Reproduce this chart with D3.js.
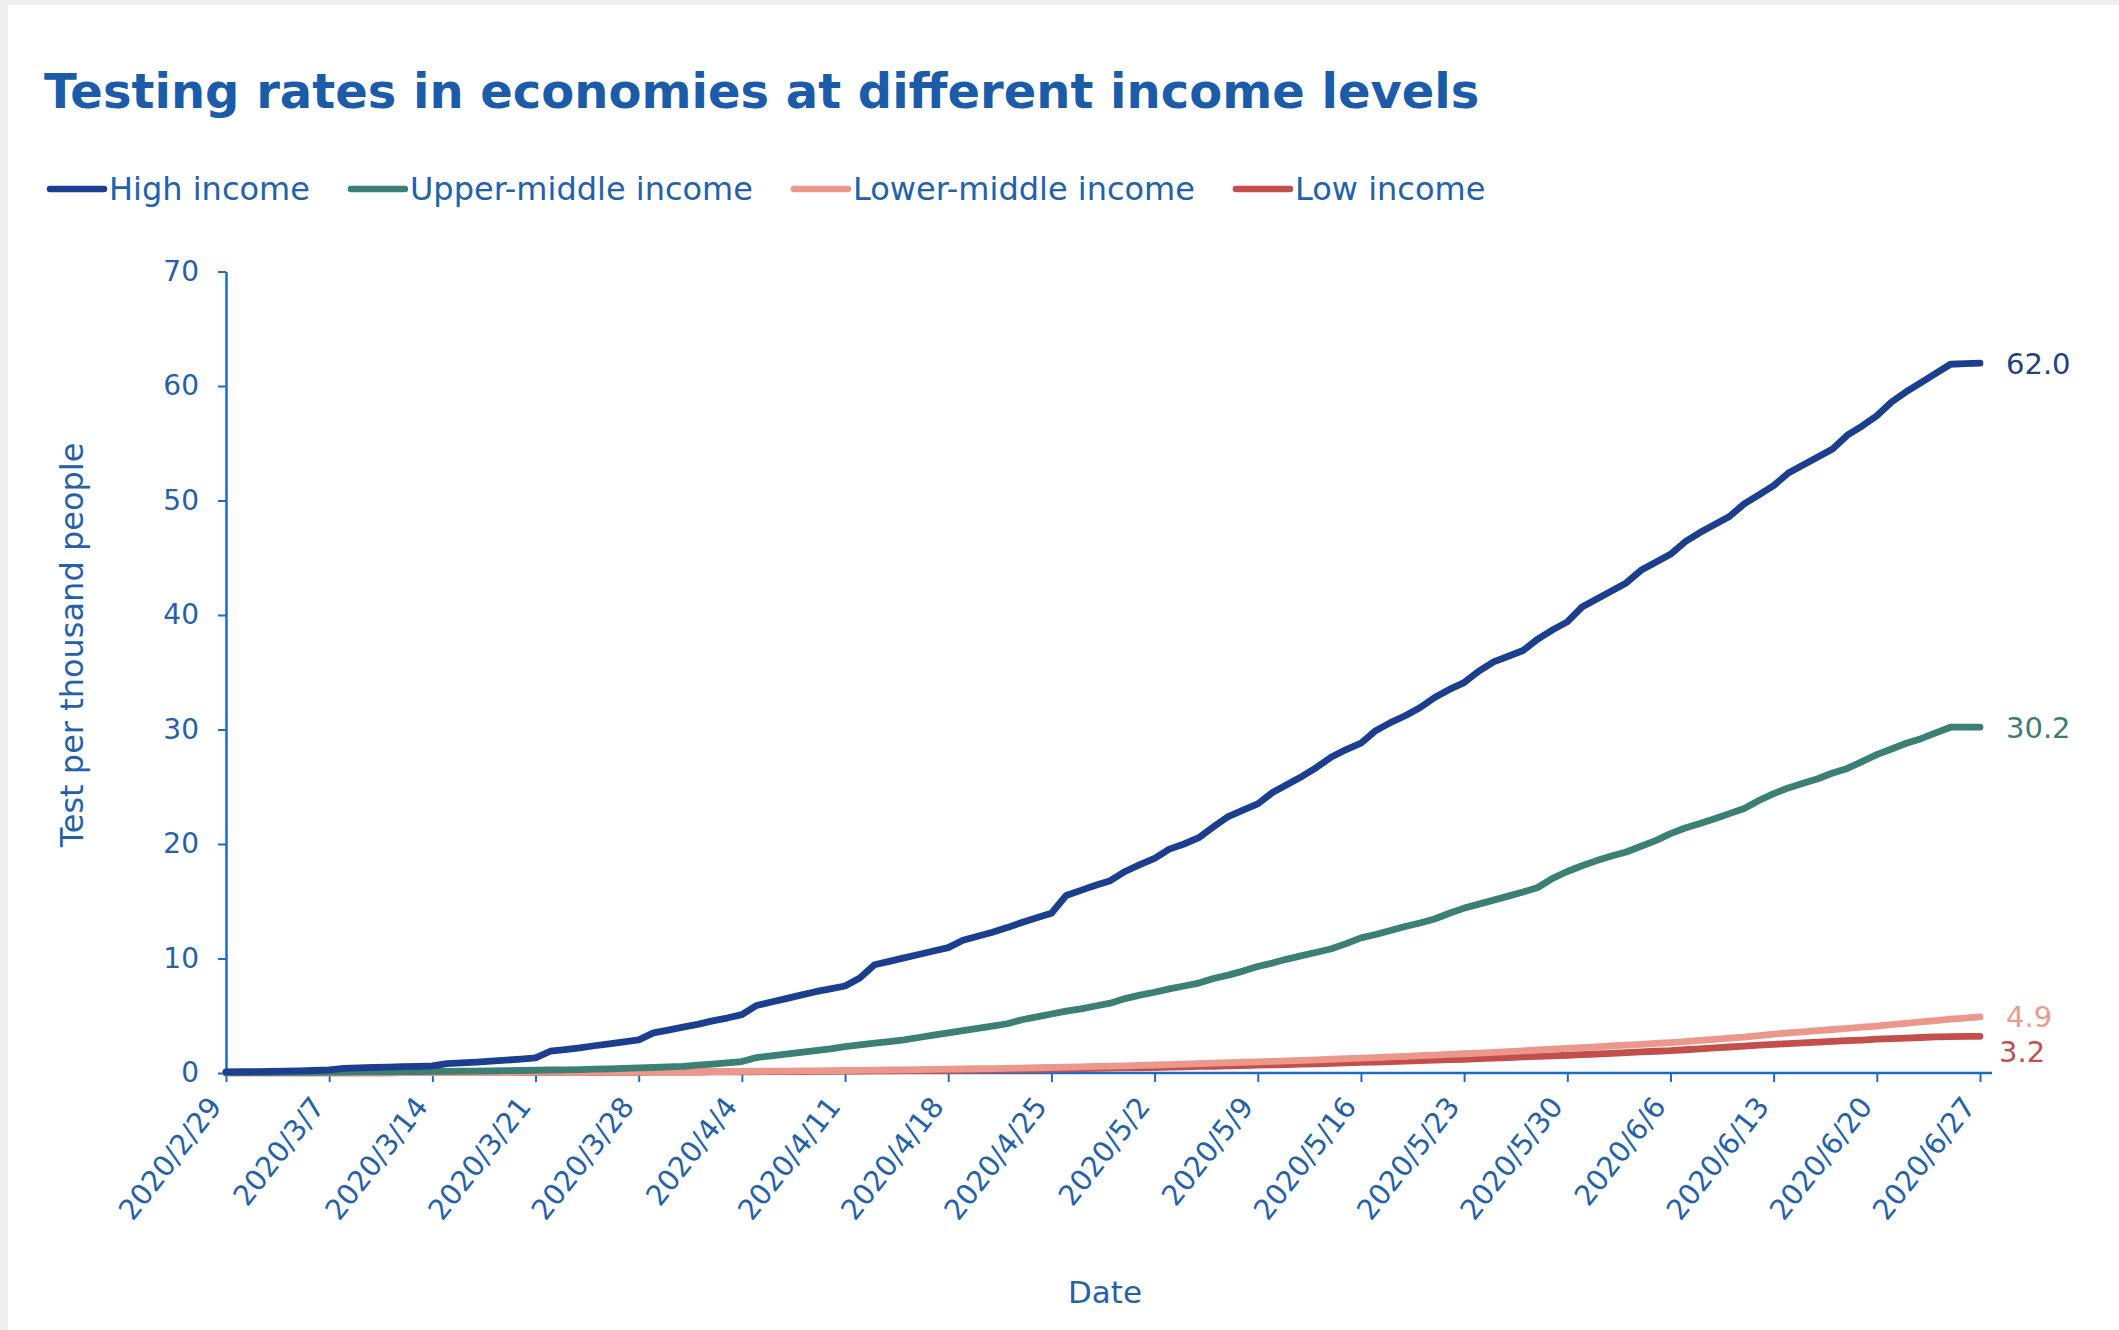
<!DOCTYPE html>
<html>
<head>
<meta charset="utf-8">
<script src="https://cdn.jsdelivr.net/npm/d3@7/dist/d3.min.js"></script>
<style>
  html, body { margin: 0; padding: 0; background: #efefef; }
  svg { display: block; }
  text { font-family: "DejaVu Sans", Verdana, sans-serif; }
</style>
</head>
<body>
<svg id="chart" width="2119" height="1330"></svg>
<script>
// Cumulative tests per thousand people, one value per day from 2020/2/29 to 2020/6/27
const startDate = "2020-02-29";
const tickLabels = ["2020/2/29","2020/3/7","2020/3/14","2020/3/21","2020/3/28","2020/4/4",
  "2020/4/11","2020/4/18","2020/4/25","2020/5/2","2020/5/9","2020/5/16","2020/5/23",
  "2020/5/30","2020/6/6","2020/6/13","2020/6/20","2020/6/27"];
const yTicks = [0, 10, 20, 30, 40, 50, 60, 70];
const seriesNames = ["High income", "Upper-middle income", "Lower-middle income", "Low income"];

const highIncome = [
  0.10,0.11,0.12,0.14,0.16,0.18,0.22,0.28,
  0.40,0.45,0.48,0.52,0.55,0.58,0.62,
  0.82,0.88,0.95,1.03,1.12,1.22,1.32,
  1.90,2.05,2.20,2.38,2.55,2.72,2.90,
  3.50,3.75,4.00,4.25,4.55,4.80,5.10,
  5.90,6.20,6.50,6.80,7.10,7.35,7.60,
  8.30,9.45,9.75,10.05,10.35,10.65,10.95,
  11.60,11.95,12.30,12.70,13.15,13.55,13.95,
  15.50,15.95,16.40,16.80,17.60,18.20,18.75,
  19.55,20.00,20.55,21.50,22.40,22.95,23.50,
  24.50,25.20,25.90,26.70,27.60,28.25,28.80,
  29.90,30.60,31.20,31.90,32.80,33.50,34.10,
  35.10,35.90,36.40,36.90,37.90,38.70,39.40,
  40.70,41.40,42.10,42.80,43.90,44.60,45.30,
  46.40,47.20,47.90,48.60,49.70,50.50,51.30,
  52.40,53.10,53.80,54.50,55.70,56.50,57.40,
  58.60,59.50,60.30,61.10,61.90,61.95,62.00
];
const upperMiddleIncome = [
  0.03,0.03,0.04,0.04,0.05,0.05,0.06,0.07,
  0.08,0.09,0.10,0.11,0.12,0.13,0.14,
  0.15,0.16,0.17,0.18,0.20,0.22,0.24,
  0.26,0.28,0.30,0.33,0.36,0.40,0.44,
  0.48,0.53,0.58,0.68,0.78,0.88,1.00,
  1.35,1.50,1.65,1.80,1.95,2.10,2.30,
  2.45,2.60,2.75,2.90,3.10,3.30,3.50,
  3.70,3.90,4.10,4.30,4.65,4.90,5.15,
  5.40,5.60,5.85,6.10,6.50,6.80,7.05,
  7.35,7.60,7.85,8.25,8.55,8.90,9.30,
  9.60,9.95,10.25,10.55,10.85,11.30,11.80,
  12.10,12.45,12.80,13.10,13.45,13.95,14.40,
  14.75,15.10,15.45,15.80,16.20,17.00,17.60,
  18.10,18.55,18.95,19.30,19.80,20.30,20.90,
  21.40,21.80,22.20,22.65,23.10,23.80,24.40,
  24.90,25.30,25.70,26.20,26.60,27.20,27.80,
  28.30,28.80,29.20,29.70,30.20,30.20,30.20
];
const lowerMiddleIncome = [
  0.01,0.01,0.01,0.01,0.01,0.02,0.02,0.02,
  0.02,0.02,0.02,0.03,0.03,0.03,0.03,
  0.03,0.04,0.04,0.04,0.04,0.05,0.05,
  0.05,0.06,0.06,0.07,0.07,0.08,0.08,
  0.09,0.10,0.10,0.11,0.12,0.13,0.14,
  0.15,0.16,0.17,0.18,0.19,0.20,0.22,
  0.23,0.25,0.26,0.28,0.30,0.31,0.33,
  0.35,0.37,0.39,0.41,0.43,0.46,0.48,
  0.51,0.54,0.57,0.60,0.63,0.66,0.70,
  0.74,0.78,0.82,0.86,0.90,0.94,0.98,
  1.02,1.06,1.10,1.15,1.20,1.25,1.30,
  1.35,1.40,1.45,1.51,1.57,1.62,1.68,
  1.74,1.80,1.87,1.94,2.01,2.08,2.15,
  2.22,2.29,2.36,2.43,2.50,2.58,2.65,
  2.74,2.84,2.94,3.04,3.14,3.27,3.40,
  3.50,3.60,3.70,3.80,3.90,4.00,4.10,
  4.22,4.34,4.46,4.58,4.70,4.80,4.90
];
const lowIncome = [
  0.01,0.01,0.01,0.01,0.01,0.01,0.02,0.02,
  0.02,0.02,0.02,0.02,0.03,0.03,0.03,
  0.03,0.03,0.03,0.03,0.04,0.04,0.04,
  0.04,0.05,0.05,0.05,0.05,0.06,0.06,
  0.07,0.07,0.08,0.08,0.09,0.09,0.10,
  0.11,0.12,0.12,0.13,0.14,0.15,0.16,
  0.17,0.18,0.19,0.20,0.21,0.22,0.24,
  0.25,0.26,0.28,0.29,0.30,0.32,0.34,
  0.36,0.38,0.40,0.42,0.44,0.46,0.48,
  0.51,0.54,0.57,0.59,0.62,0.65,0.68,
  0.71,0.74,0.78,0.81,0.85,0.88,0.92,
  0.96,1.00,1.04,1.08,1.12,1.16,1.20,
  1.25,1.30,1.35,1.40,1.45,1.50,1.55,
  1.60,1.66,1.72,1.78,1.84,1.90,1.95,
  2.03,2.11,2.19,2.27,2.35,2.43,2.50,
  2.57,2.64,2.70,2.76,2.82,2.88,2.95,
  3.00,3.05,3.10,3.15,3.18,3.20,3.20
];
const endLabels = ["62.0", "30.2", "4.9", "3.2"];

// ---- styling ----
const seriesColors = ["#1b3f8e", "#3c7f74", "#ec978b", "#c24f4b"];
const labelColors  = ["#22417e", "#3f7a73", "#eb9c90", "#c0504d"];
const labelShiftY  = [0, 0, 0, 15];
const labelShiftX  = [0, 0, 0, -7];
const textBlue = "#2461a8";
const axisBlue = "#1c6cc2";

const parse = d3.timeParse("%Y-%m-%d");
const parseTick = d3.timeParse("%Y/%m/%d");
const t0 = parse(startDate);
const allSeries = [highIncome, upperMiddleIncome, lowerMiddleIncome, lowIncome];
const rows = allSeries.map(vals => vals.map((v, i) => ({ date: d3.timeDay.offset(t0, i), value: v })));
const tickDates = tickLabels.map(s => parseTick(s));

const svg = d3.select("#chart");
svg.append("rect").attr("x", 8).attr("y", 5).attr("width", 2111).attr("height", 1325).attr("fill", "#ffffff");

const x = d3.scaleTime()
  .domain([tickDates[0], tickDates[tickDates.length - 1]])
  .range([226, 1980]);
const y = d3.scaleLinear().domain([0, 70]).range([1073, 271.5]);

// title
svg.append("text")
  .attr("x", 44).attr("y", 108)
  .attr("font-size", 48).attr("font-weight", "bold")
  .attr("fill", "#1b5ba8")
  .text("Testing rates in economies at different income levels");

// legend
let lx = 50;
seriesNames.forEach((name, i) => {
  const g = svg.append("g").attr("transform", `translate(${lx},189)`);
  g.append("line").attr("x1", 0).attr("x2", 54).attr("y1", 0).attr("y2", 0)
    .attr("stroke", seriesColors[i]).attr("stroke-width", 6.5).attr("stroke-linecap", "round");
  const t = g.append("text").attr("x", 59).attr("y", 11)
    .attr("font-size", 32).attr("fill", textBlue).text(name);
  lx += 59 + t.node().getComputedTextLength() + 41;
});

// y axis
const yAxis = svg.append("g")
  .attr("transform", `translate(${x.range()[0]},0)`)
  .call(d3.axisLeft(y).tickValues(yTicks).tickSize(8).tickSizeOuter(0).tickPadding(19));
yAxis.select(".domain").attr("stroke", axisBlue).attr("stroke-width", 2.5);
yAxis.selectAll(".tick line").attr("stroke", axisBlue).attr("stroke-width", 2);
yAxis.selectAll(".tick text").attr("font-size", 28).attr("fill", textBlue)
  .attr("font-family", "\"DejaVu Sans\", Verdana, sans-serif");

// x axis
const fmt = d => `${d.getFullYear()}/${d.getMonth() + 1}/${d.getDate()}`;
const xAxis = svg.append("g")
  .attr("transform", `translate(0,${y(0)})`)
  .call(d3.axisBottom(x).tickValues(tickDates).tickFormat(fmt).tickSize(9).tickSizeOuter(0));
xAxis.select(".domain").remove();
xAxis.append("line")
  .attr("x1", x.range()[0] - 2).attr("x2", x.range()[1] + 12)
  .attr("y1", 0).attr("y2", 0)
  .attr("stroke", axisBlue).attr("stroke-width", 2.5);
xAxis.selectAll(".tick line").attr("stroke", axisBlue).attr("stroke-width", 2);
xAxis.selectAll(".tick text")
  .attr("font-size", 28.5).attr("fill", textBlue)
  .attr("font-family", "\"DejaVu Sans\", Verdana, sans-serif")
  .attr("text-anchor", "end")
  .attr("x", -29).attr("y", 8).attr("dy", "0.35em")
  .attr("transform", "rotate(-52)");

// axis titles
svg.append("text")
  .attr("x", 1105).attr("y", 1303)
  .attr("text-anchor", "middle").attr("font-size", 31).attr("fill", textBlue)
  .text("Date");
svg.append("text")
  .attr("transform", "translate(83,645) rotate(-90)")
  .attr("text-anchor", "middle").attr("font-size", 32).attr("fill", textBlue)
  .text("Test per thousand people");

// lines (drawn low to high so the top series sits above)
const line = d3.line().x(d => x(d.date)).y(d => y(d.value));
[3, 2, 1, 0].forEach(i => {
  svg.append("path")
    .datum(rows[i])
    .attr("fill", "none")
    .attr("stroke", seriesColors[i])
    .attr("stroke-width", 6.8)
    .attr("stroke-linejoin", "round")
    .attr("stroke-linecap", "round")
    .attr("d", line);
});

// end-of-line value labels
rows.forEach((r, i) => {
  const last = r[r.length - 1];
  svg.append("text")
    .attr("x", x(last.date) + 26 + labelShiftX[i])
    .attr("y", y(last.value) + labelShiftY[i])
    .attr("dy", "0.36em")
    .attr("font-size", 29)
    .attr("fill", labelColors[i])
    .text(endLabels[i]);
});
</script>
</body>
</html>
